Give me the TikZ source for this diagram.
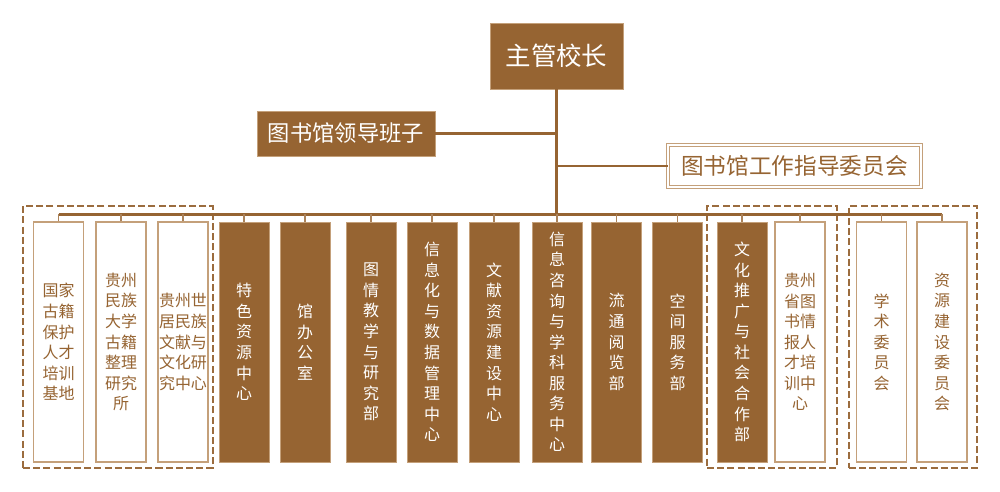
\documentclass[tikz,border=0pt]{standalone}
\usepackage{fontspec}
\setmainfont{Noto Sans CJK SC}
\usepackage{tikz}
\usetikzlibrary{positioning,calc}
\definecolor{libbrown}{RGB}{150,100,50}
\definecolor{libtan}{RGB}{196,160,122}
\definecolor{libdash}{RGB}{155,108,62}

\begin{document}
\begin{tikzpicture}[x=0.02cm, y=-0.02cm,
    colfont/.style={font=\fontsize{9.1}{11.7}\selectfont},
    unitbox/.style={rectangle, draw=libtan, line width=0.4pt, fill=libbrown,
        text=white, inner sep=0pt, minimum width=1cm, minimum height=4.8cm,
        align=center, colfont},
    outbox/.style={rectangle, draw=libtan, line width=0.6pt, fill=white,
        text=libbrown, inner sep=0pt, minimum width=1cm, minimum height=4.8cm,
        align=center, colfont},
    grpbox/.style={rectangle, draw=libdash, line width=0.85pt,
        dash pattern=on 4pt off 1.8pt, minimum height=5.24cm, inner sep=0pt},
    topbox/.style={rectangle, draw=libtan, line width=0.4pt, fill=libbrown,
        text=white, inner sep=0pt, font=\fontsize{14.5}{16}\selectfont},
    guidebox/.style={rectangle, draw=libtan, line width=0.5pt, double=white,
        double distance=1.3pt, fill=white, text=libbrown, inner sep=0pt,
        font=\fontsize{12.9}{14}\selectfont},
    trunk/.style={draw=libbrown, line width=1.2pt},
    busline/.style={draw=libbrown, line width=1.5pt},
    drop/.style={draw=libbrown!80, line width=0.6pt}
]
    \useasboundingbox (0,0) rectangle (1000,492);

    % head of the chart
    \node[topbox, minimum width=2.66cm, minimum height=1.32cm] (head) at (556.5,56) {主管校长};
    \node[topbox, minimum width=3.56cm, minimum height=0.9cm,
          font=\fontsize{12.7}{14}\selectfont] (lead) at (346,133.5) {图书馆领导班子};
    \node[guidebox, minimum width=5.06cm, minimum height=0.84cm] (guide) at (794.5,166) {图书馆工作指导委员会};

    % dashed groups
    \node[grpbox, minimum width=3.8cm] (g1) at (118,337) {};
    \node[grpbox, minimum width=2.6cm] (g2) at (772,337) {};
    \node[grpbox, minimum width=2.56cm] (g3) at (913,337) {};

    % departments
    \node[outbox] (c1) at (58.5,342) {国家\\古籍\\保护\\人才\\培训\\基地};
    \node[outbox] (c2) at (121,342) {贵州\\民族\\大学\\古籍\\整理\\研究\\所};
    \node[outbox] (c3) at (183,342) {贵州世\\居民族\\文献与\\文化研\\究中心};
    \node[unitbox] (c4) at (244,342) {特\\色\\资\\源\\中\\心};
    \node[unitbox] (c5) at (305,342) {馆\\办\\公\\室};
    \node[unitbox] (c6) at (371,342) {图\\情\\教\\学\\与\\研\\究\\部};
    \node[unitbox] (c7) at (432,342) {信\\息\\化\\与\\数\\据\\管\\理\\中\\心};
    \node[unitbox] (c8) at (494,342) {文\\献\\资\\源\\建\\设\\中\\心};
    \node[unitbox] (c9) at (557,342) {信\\息\\咨\\询\\与\\学\\科\\服\\务\\中\\心};
    \node[unitbox] (c10) at (616.5,342) {流\\通\\阅\\览\\部};
    \node[unitbox] (c11) at (677.5,342) {空\\间\\服\\务\\部};
    \node[unitbox] (c12) at (742,342) {文\\化\\推\\广\\与\\社\\会\\合\\作\\部};
    \node[outbox] (c13) at (800,342) {贵州\\省图\\书情\\报人\\才培\\训中\\心};
    \node[outbox] (c14) at (881.5,342) {学\\术\\委\\员\\会};
    \node[outbox] (c15) at (942,342) {资\\源\\建\\设\\委\\员\\会};

    % connectors
    \coordinate (busL) at (58.5,214.5);
    \coordinate (busR) at (942,214.5);
    \draw[trunk] (head.south) -- (head.south |- busL);
    \draw[trunk] (lead.east) -- (lead.east -| head.south);
    \draw[trunk] (guide.west) -- (guide.west -| head.south);
    \draw[busline] (busL) -- (busR);
    \draw[drop] (c1.north) -- (c1.north |- busL);
    \draw[drop] (c2.north) -- (c2.north |- busL);
    \draw[drop] (c3.north) -- (c3.north |- busL);
    \draw[drop] (c4.north) -- (c4.north |- busL);
    \draw[drop] (c5.north) -- (c5.north |- busL);
    \draw[drop] (c6.north) -- (c6.north |- busL);
    \draw[drop] (c7.north) -- (c7.north |- busL);
    \draw[drop] (c8.north) -- (c8.north |- busL);
    \draw[drop] (c9.north) -- (c9.north |- busL);
    \draw[drop] (c10.north) -- (c10.north |- busL);
    \draw[drop] (c11.north) -- (c11.north |- busL);
    \draw[drop] (c12.north) -- (c12.north |- busL);
    \draw[drop] (c13.north) -- (c13.north |- busL);
    \draw[drop] (c14.north) -- (c14.north |- busL);
    \draw[drop] (c15.north) -- (c15.north |- busL);
\end{tikzpicture}
\end{document}
